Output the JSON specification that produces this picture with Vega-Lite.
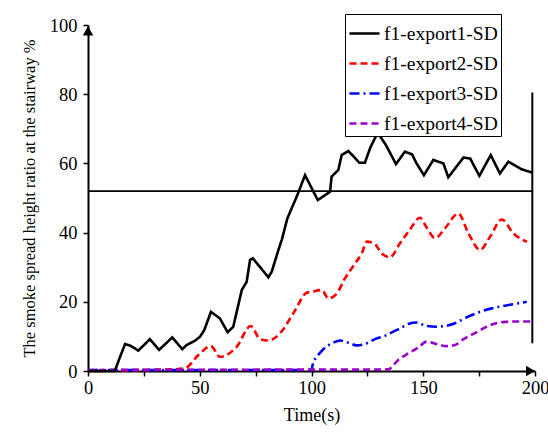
{
  "$schema": "https://vega.github.io/schema/vega-lite/v6.json",
  "width": 447,
  "height": 346,
  "autosize": {"type": "none"},
  "padding": {"left": 88, "top": 25, "right": 13, "bottom": 64},
  "background": "white",
  "config": {"view": {"stroke": null}},
  "datasets": {
    "lines": [
      {"series": "f1-export1-SD", "t": 0, "v": 0}, {"series": "f1-export1-SD", "t": 12, "v": 0}, {"series": "f1-export1-SD", "t": 14, "v": 3.5}, {"series": "f1-export1-SD", "t": 16.6, "v": 7.8}, {"series": "f1-export1-SD", "t": 19, "v": 7.3}, {"series": "f1-export1-SD", "t": 22.5, "v": 5.9}, {"series": "f1-export1-SD", "t": 27.7, "v": 9.2}, {"series": "f1-export1-SD", "t": 31.8, "v": 6.1}, {"series": "f1-export1-SD", "t": 37.7, "v": 9.7}, {"series": "f1-export1-SD", "t": 42.2, "v": 6.3}, {"series": "f1-export1-SD", "t": 44.1, "v": 7.5}, {"series": "f1-export1-SD", "t": 48, "v": 8.8}, {"series": "f1-export1-SD", "t": 50.1, "v": 9.9}, {"series": "f1-export1-SD", "t": 52, "v": 11.8}, {"series": "f1-export1-SD", "t": 55, "v": 17.1}, {"series": "f1-export1-SD", "t": 59, "v": 15.2}, {"series": "f1-export1-SD", "t": 62.5, "v": 11.2}, {"series": "f1-export1-SD", "t": 65, "v": 12.8}, {"series": "f1-export1-SD", "t": 68.8, "v": 23.4}, {"series": "f1-export1-SD", "t": 71, "v": 25.8}, {"series": "f1-export1-SD", "t": 72.5, "v": 32.1}, {"series": "f1-export1-SD", "t": 73.7, "v": 32.6}, {"series": "f1-export1-SD", "t": 80.7, "v": 27.1}, {"series": "f1-export1-SD", "t": 82.2, "v": 28.7}, {"series": "f1-export1-SD", "t": 85.2, "v": 35}, {"series": "f1-export1-SD", "t": 86.7, "v": 37.9}, {"series": "f1-export1-SD", "t": 89.2, "v": 44.1}, {"series": "f1-export1-SD", "t": 91.1, "v": 47}, {"series": "f1-export1-SD", "t": 93.4, "v": 50.4}, {"series": "f1-export1-SD", "t": 97.1, "v": 56.6}, {"series": "f1-export1-SD", "t": 102.8, "v": 49.4}, {"series": "f1-export1-SD", "t": 108.3, "v": 51.8}, {"series": "f1-export1-SD", "t": 109, "v": 56.2}, {"series": "f1-export1-SD", "t": 112, "v": 58.1}, {"series": "f1-export1-SD", "t": 113.5, "v": 62.4}, {"series": "f1-export1-SD", "t": 116.5, "v": 63.6}, {"series": "f1-export1-SD", "t": 121.4, "v": 60.2}, {"series": "f1-export1-SD", "t": 123.9, "v": 60.2}, {"series": "f1-export1-SD", "t": 126.2, "v": 64.4}, {"series": "f1-export1-SD", "t": 129.6, "v": 68.9}, {"series": "f1-export1-SD", "t": 133.3, "v": 65.3}, {"series": "f1-export1-SD", "t": 137.8, "v": 59.8}, {"series": "f1-export1-SD", "t": 141.8, "v": 63.4}, {"series": "f1-export1-SD", "t": 145, "v": 62.6}, {"series": "f1-export1-SD", "t": 147, "v": 60}, {"series": "f1-export1-SD", "t": 150.3, "v": 56.6}, {"series": "f1-export1-SD", "t": 154.5, "v": 61}, {"series": "f1-export1-SD", "t": 159, "v": 60}, {"series": "f1-export1-SD", "t": 161.2, "v": 56}, {"series": "f1-export1-SD", "t": 168, "v": 61.7}, {"series": "f1-export1-SD", "t": 171, "v": 61.4}, {"series": "f1-export1-SD", "t": 175.1, "v": 56.4}, {"series": "f1-export1-SD", "t": 180.2, "v": 62.4}, {"series": "f1-export1-SD", "t": 184.3, "v": 57.1}, {"series": "f1-export1-SD", "t": 188.1, "v": 60.5}, {"series": "f1-export1-SD", "t": 194, "v": 58.3}, {"series": "f1-export1-SD", "t": 199, "v": 57.3},
      {"series": "f1-export2-SD", "t": 0, "v": 0}, {"series": "f1-export2-SD", "t": 20, "v": 0.2}, {"series": "f1-export2-SD", "t": 33, "v": 0.4}, {"series": "f1-export2-SD", "t": 39, "v": 0.5}, {"series": "f1-export2-SD", "t": 43.4, "v": 0.8}, {"series": "f1-export2-SD", "t": 49.4, "v": 4.6}, {"series": "f1-export2-SD", "t": 55, "v": 7.2}, {"series": "f1-export2-SD", "t": 59, "v": 4.1}, {"series": "f1-export2-SD", "t": 66.5, "v": 7}, {"series": "f1-export2-SD", "t": 72.8, "v": 13}, {"series": "f1-export2-SD", "t": 77, "v": 9.2}, {"series": "f1-export2-SD", "t": 80.7, "v": 8.8}, {"series": "f1-export2-SD", "t": 85.9, "v": 10.9}, {"series": "f1-export2-SD", "t": 91.9, "v": 16.7}, {"series": "f1-export2-SD", "t": 97.8, "v": 22.6}, {"series": "f1-export2-SD", "t": 100, "v": 22.9}, {"series": "f1-export2-SD", "t": 104.6, "v": 23.4}, {"series": "f1-export2-SD", "t": 107.5, "v": 21}, {"series": "f1-export2-SD", "t": 111.3, "v": 22.4}, {"series": "f1-export2-SD", "t": 115, "v": 26.8}, {"series": "f1-export2-SD", "t": 119.5, "v": 31.1}, {"series": "f1-export2-SD", "t": 122.5, "v": 34}, {"series": "f1-export2-SD", "t": 124.7, "v": 37.4}, {"series": "f1-export2-SD", "t": 128, "v": 36.9}, {"series": "f1-export2-SD", "t": 131.4, "v": 34}, {"series": "f1-export2-SD", "t": 135.1, "v": 32.9}, {"series": "f1-export2-SD", "t": 139.6, "v": 36.9}, {"series": "f1-export2-SD", "t": 144, "v": 40.8}, {"series": "f1-export2-SD", "t": 148.5, "v": 44.3}, {"series": "f1-export2-SD", "t": 151.5, "v": 41.5}, {"series": "f1-export2-SD", "t": 155.3, "v": 38.4}, {"series": "f1-export2-SD", "t": 159.7, "v": 41.2}, {"series": "f1-export2-SD", "t": 165.7, "v": 45.5}, {"series": "f1-export2-SD", "t": 170.2, "v": 39.8}, {"series": "f1-export2-SD", "t": 175.4, "v": 35}, {"series": "f1-export2-SD", "t": 179.9, "v": 38.8}, {"series": "f1-export2-SD", "t": 185.1, "v": 43.8}, {"series": "f1-export2-SD", "t": 190.3, "v": 39.8}, {"series": "f1-export2-SD", "t": 196.4, "v": 37.3},
      {"series": "f1-export3-SD", "t": 0, "v": 0.3}, {"series": "f1-export3-SD", "t": 100, "v": 0.3}, {"series": "f1-export3-SD", "t": 100.5, "v": 1.7}, {"series": "f1-export3-SD", "t": 103, "v": 4.6}, {"series": "f1-export3-SD", "t": 105.3, "v": 6.3}, {"series": "f1-export3-SD", "t": 109.8, "v": 8.2}, {"series": "f1-export3-SD", "t": 112.8, "v": 8.8}, {"series": "f1-export3-SD", "t": 116.5, "v": 8.2}, {"series": "f1-export3-SD", "t": 120.2, "v": 7.4}, {"series": "f1-export3-SD", "t": 123.9, "v": 7.8}, {"series": "f1-export3-SD", "t": 128.4, "v": 9.2}, {"series": "f1-export3-SD", "t": 133.6, "v": 10.4}, {"series": "f1-export3-SD", "t": 136.6, "v": 11.4}, {"series": "f1-export3-SD", "t": 139.6, "v": 12.3}, {"series": "f1-export3-SD", "t": 143.3, "v": 13.6}, {"series": "f1-export3-SD", "t": 147, "v": 14}, {"series": "f1-export3-SD", "t": 151.5, "v": 13}, {"series": "f1-export3-SD", "t": 156, "v": 12.8}, {"series": "f1-export3-SD", "t": 159.7, "v": 13}, {"series": "f1-export3-SD", "t": 164.2, "v": 13.8}, {"series": "f1-export3-SD", "t": 169.4, "v": 15.5}, {"series": "f1-export3-SD", "t": 175.4, "v": 17.1}, {"series": "f1-export3-SD", "t": 180.6, "v": 18.1}, {"series": "f1-export3-SD", "t": 185.8, "v": 18.8}, {"series": "f1-export3-SD", "t": 191, "v": 19.4}, {"series": "f1-export3-SD", "t": 196.3, "v": 20},
      {"series": "f1-export4-SD", "t": 0, "v": 0.3}, {"series": "f1-export4-SD", "t": 120, "v": 0.4}, {"series": "f1-export4-SD", "t": 130, "v": 0.4}, {"series": "f1-export4-SD", "t": 134.4, "v": 0.5}, {"series": "f1-export4-SD", "t": 138.8, "v": 3.2}, {"series": "f1-export4-SD", "t": 143.3, "v": 5.1}, {"series": "f1-export4-SD", "t": 147.8, "v": 6.8}, {"series": "f1-export4-SD", "t": 151.5, "v": 8.5}, {"series": "f1-export4-SD", "t": 156, "v": 7.8}, {"series": "f1-export4-SD", "t": 160.5, "v": 7.2}, {"series": "f1-export4-SD", "t": 164.2, "v": 7.5}, {"series": "f1-export4-SD", "t": 168, "v": 9.2}, {"series": "f1-export4-SD", "t": 172.4, "v": 10.7}, {"series": "f1-export4-SD", "t": 176.9, "v": 12.3}, {"series": "f1-export4-SD", "t": 181.4, "v": 13.6}, {"series": "f1-export4-SD", "t": 186.6, "v": 14.2}, {"series": "f1-export4-SD", "t": 191.8, "v": 14.3}, {"series": "f1-export4-SD", "t": 199, "v": 14.3}
    ],
    "hline": [{"t": 0, "t2": 199, "v": 52}],
    "vline": [{"t": 198.8, "v": 8, "v2": 80.5}],
    "arrows": [{"t": 198, "v": 0, "shape": "triangle-right"}, {"t": 0, "v": 98.3, "shape": "triangle-up"}]
  },
  "encoding": {
    "x": {"field": "t", "type": "quantitative", "title": "Time(s)",
      "scale": {"domain": [0, 200], "nice": false},
      "axis": {"values": [0, 25, 50, 75, 100, 125, 150, 175, 200], "labelExpr": "datum.value % 50 === 0 ? datum.label : ''",
        "grid": false, "domainColor": "#000", "domainWidth": 2, "tickColor": "#000", "tickWidth": 1.5, "tickSize": 5,
        "labelFont": "Liberation Serif", "labelFontSize": 18.5, "labelColor": "#000", "labelPadding": 2, "labelFlush": false,
        "titleFont": "Liberation Serif", "titleFontSize": 18, "titleFontWeight": "normal", "titleColor": "#000", "titlePadding": 10}},
    "y": {"field": "v", "type": "quantitative", "title": "The smoke spread height ratio at the stairway %",
      "scale": {"domain": [0, 100], "nice": false},
      "axis": {"values": [0, 20, 40, 60, 80, 100],
        "grid": false, "domainColor": "#000", "domainWidth": 2, "tickColor": "#000", "tickWidth": 1.5, "tickSize": 5,
        "labelFont": "Liberation Serif", "labelFontSize": 18.5, "labelColor": "#000", "labelPadding": 6, "labelFlush": false,
        "titleFont": "Liberation Serif", "titleFontSize": 16.5, "titleFontWeight": "normal", "titleColor": "#000", "titlePadding": 12}}
  },
  "layer": [
    {
      "data": {"name": "hline"},
      "mark": {"type": "rule", "color": "#000", "strokeWidth": 1.6},
      "encoding": {"x2": {"field": "t2"}}
    },
    {
      "data": {"name": "vline"},
      "mark": {"type": "rule", "color": "#000", "strokeWidth": 2},
      "encoding": {"y2": {"field": "v2"}}
    },
    {
      "data": {"name": "lines"},
      "transform": [{"filter": "datum.series !== 'f1-export1-SD'"}],
      "mark": {"type": "line", "strokeWidth": 2.6, "interpolate": "monotone"},
      "encoding": {
        "color": {"field": "series", "type": "nominal", "title": null,
          "scale": {"domain": ["f1-export1-SD", "f1-export2-SD", "f1-export3-SD", "f1-export4-SD"], "range": ["#000000", "#ff0000", "#0000ff", "#9900cc"]},
          "legend": {"orient": "none", "legendX": 257, "legendY": -11, "labelFont": "Liberation Serif", "labelFontSize": 19.5, "labelColor": "#000", "strokeColor": "#000", "fillColor": "#fff", "padding": 3, "rowPadding": 4, "labelOffset": 3, "symbolOffset": 0, "symbolType": "stroke", "symbolSize": 900, "symbolStrokeWidth": 2.6}},
        "strokeDash": {"field": "series", "type": "nominal", "title": null,
          "scale": {"domain": ["f1-export1-SD", "f1-export2-SD", "f1-export3-SD", "f1-export4-SD"], "range": [[1, 0], [7, 4], [10, 4, 2, 4], [7, 4]]},
          "legend": {"orient": "none", "legendX": 257, "legendY": -11, "labelFont": "Liberation Serif", "labelFontSize": 19.5, "labelColor": "#000", "strokeColor": "#000", "fillColor": "#fff", "padding": 3, "rowPadding": 4, "labelOffset": 3, "symbolOffset": 0, "symbolType": "stroke", "symbolSize": 900, "symbolStrokeWidth": 2.6}}
      }
    },
    {
      "data": {"name": "lines"},
      "transform": [{"filter": "datum.series === 'f1-export1-SD'"}],
      "mark": {"type": "line", "strokeWidth": 2.6, "interpolate": "linear"},
      "encoding": {
        "color": {"field": "series", "type": "nominal", "title": null},
        "strokeDash": {"field": "series", "type": "nominal", "title": null}
      }
    },
    {
      "data": {"name": "arrows"},
      "mark": {"type": "point", "filled": true, "color": "#000", "size": 110, "opacity": 1},
      "encoding": {
        "shape": {"field": "shape", "type": "nominal", "scale": null, "legend": null}
      }
    }
  ]
}
